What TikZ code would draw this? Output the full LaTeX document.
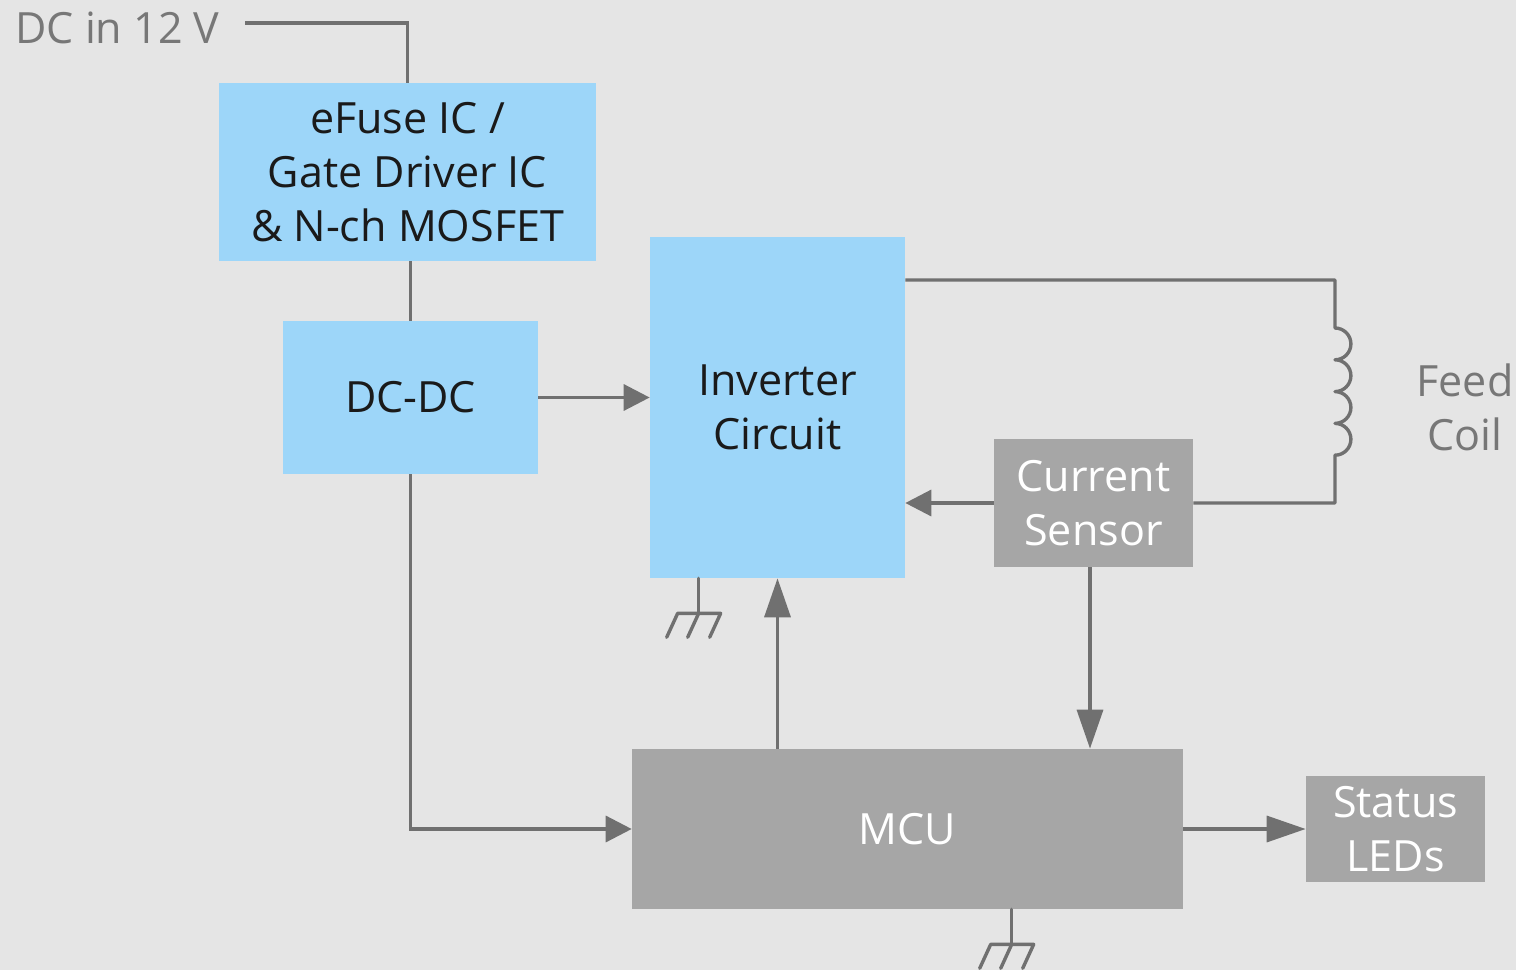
\documentclass[tikz,border=0pt]{standalone}
\usepackage{fontspec}
\setmainfont{Open Sans}
\usetikzlibrary{arrows.meta,calc}
\definecolor{bgc}{HTML}{E5E5E5}
\definecolor{blu}{HTML}{9DD6F9}
\definecolor{gry}{HTML}{A6A6A6}
\definecolor{wire}{HTML}{707070}
\definecolor{dark}{HTML}{1A1A1A}
\definecolor{lbl}{HTML}{777777}
\tikzset{
  bluebox/.style={fill=blu, draw=none, inner sep=0pt, align=center, text=dark, font=\fontsize{24.5}{30.6}\selectfont},
  greybox/.style={fill=gry, draw=none, inner sep=0pt, align=center, text=white, font=\fontsize{24.5}{30.6}\selectfont},
  lbltext/.style={text=lbl, align=center, inner sep=0pt, font=\fontsize{24.5}{30.6}\selectfont},
  conn/.style={draw=wire, line width=0.068cm},
  arr/.style={conn, -{Triangle[length=0.52cm,width=0.52cm]}},
  longarr/.style={conn, -{Triangle[length=0.78cm,width=0.52cm]}},
  gnd/.pic={
    \draw[draw=wire, line width=0.068cm, line cap=round] (0,0) -- (0,35);
    \draw[draw=wire, line width=0.068cm, line cap=round, line join=round] (-32,59) -- (-21,35) -- (22,35) -- (11,59);
    \draw[draw=wire, line width=0.068cm, line cap=round] (0,35) -- (-11,59);
  }
}
\begin{document}
\begin{tikzpicture}[x=0.02cm,y=-0.02cm]
\fill[bgc] (0,0) rectangle (1516,970);
\useasboundingbox (0,0) rectangle (1516,970);

\node[bluebox, minimum width=7.54cm, minimum height=3.56cm] (efuse) at (407.5,172) {eFuse IC /\\Gate Driver IC\\\& N-ch MOSFET};
\node[bluebox, minimum width=5.1cm, minimum height=3.06cm] (dcdc) at (410.5,397.5) {DC-DC};
\node[bluebox, minimum width=5.1cm, minimum height=6.82cm] (inv) at (777.5,407.5) {};
\node[bluebox] (invtext) at (777.5,407) {Inverter\\Circuit};
\node[greybox, minimum width=3.98cm, minimum height=2.56cm] (cs) at (1093.5,503) {Current\\Sensor};
\node[greybox, minimum width=11.02cm, minimum height=3.2cm] (mcu) at (907.5,829) {MCU};
\node[greybox, minimum width=3.58cm, minimum height=2.12cm] (leds) at (1395.5,829) {Status\\LEDs};

\node[lbltext, anchor=west] (dcin) at (15,28) {DC in 12 V};
\node[lbltext] (feed) at (1465,407) {Feed\\Coil};

\coordinate (dcinend) at (245,23);
\coordinate (c1) at (1335,280);
\coordinate (ctop) at (1335,328);
\coordinate (cbot) at (1335,455);
\coordinate (c2) at (1335,503);
\coordinate (csdown) at ($(cs.south)+(-3.5,0)$);

% DC in to eFuse
\draw[conn] (dcinend) -| (efuse.north);
% eFuse to DC-DC
\draw[conn] (dcdc.north) -- (dcdc.north |- efuse.south);
% DC-DC to inverter
\draw[arr] (dcdc.east) -- (inv.west |- dcdc.east);
% inverter to coil and back via current sensor
\draw[conn, line join=round] (inv.east |- c1) -- (c1) -- (ctop)
  arc[start angle=90, end angle=-90, x radius=15.9, y radius=-15.9]
  arc[start angle=90, end angle=-90, x radius=15.9, y radius=-15.9]
  arc[start angle=90, end angle=-90, x radius=15.9, y radius=-15.9]
  arc[start angle=90, end angle=-90, x radius=15.9, y radius=-15.9]
  -- (c2) -- (cs.east);
% current sensor to inverter
\draw[arr] (cs.west) -- (inv.east |- cs.west);
% current sensor to MCU
\draw[longarr] (csdown) -- (csdown |- mcu.north);
% MCU to inverter
\draw[longarr] (inv.south |- mcu.north) -- (inv.south);
% DC-DC to MCU
\draw[arr] (dcdc.south) |- (mcu.west);
% MCU to LEDs
\draw[longarr] (mcu.east) -- (leds.west);

% grounds
\coordinate (g1) at ($(inv.south west)+(49,0)$);
\coordinate (g2) at ($(mcu.south west)+(380,0)$);
\pic at (g1) {gnd};
\pic at (g2) {gnd};
\end{tikzpicture}
\end{document}
